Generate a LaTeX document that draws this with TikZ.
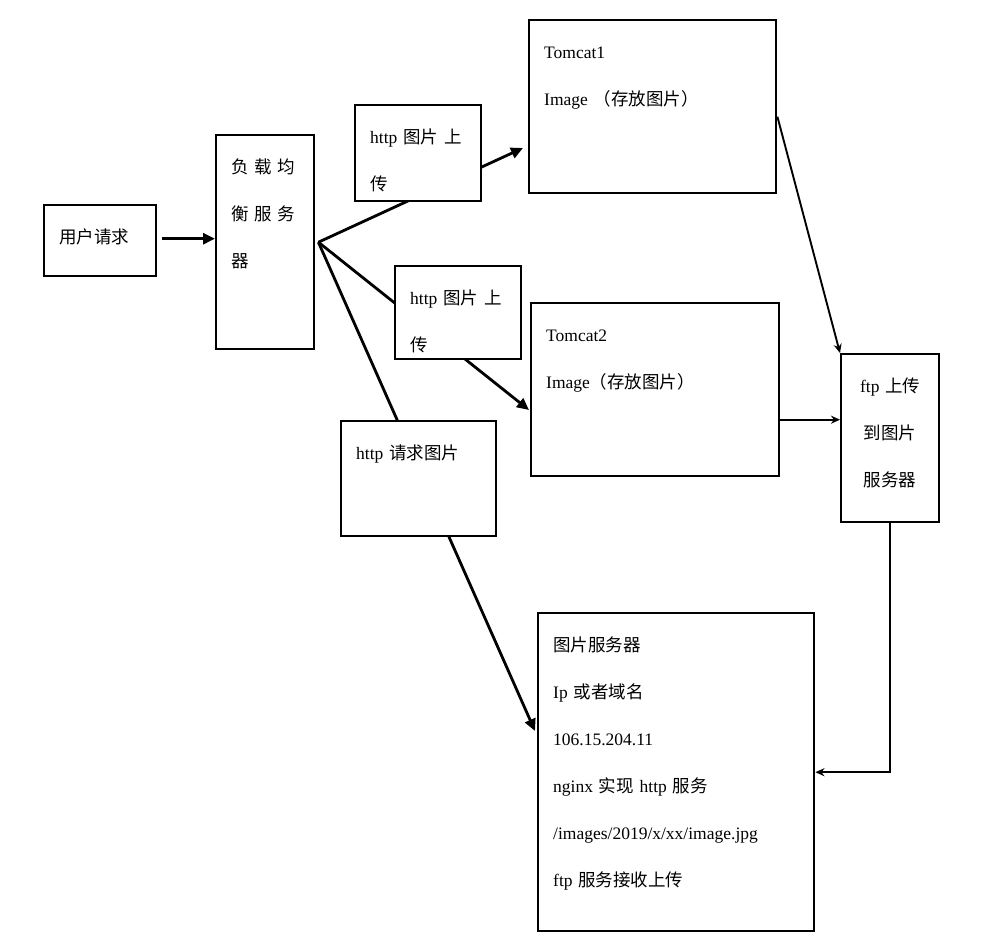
\documentclass[tikz,border=0pt]{standalone}
\usepackage{fontspec}
\setmainfont{Liberation Serif}
\newfontfamily\zh{Noto Sans CJK SC}
\usetikzlibrary{arrows.meta}

\begin{document}
\begin{tikzpicture}[x=1pt,y=-1pt,
    box/.style={draw,line width=2.4pt,anchor=north west,inner xsep=15pt,inner ysep=0pt,
        align=left,text height=38pt,font=\fontsize{17.5}{47}\selectfont},
    thick arrow/.style={-{Triangle[length=12pt,width=11pt]},line width=2.8pt},
    thin arrow/.style={-{Stealth[length=9pt,width=8pt]},line width=1.9pt}]

    \useasboundingbox (0,0) rectangle (1004,946);

    \path
    (43,204) node[box,text width=82pt,text depth=33pt](user) {{\zh 用户请求}}
    (215,134) node[box,text width=68pt,text depth=176pt](lb) {{\zh 负 载 均}\\{\zh 衡 服 务}\\{\zh 器}}
    (528,19) node[box,text width=217pt,text depth=135pt](tc1) {Tomcat1\\Image {\zh （存放图片）}}
    (530,302) node[box,text width=218pt,text depth=135pt](tc2) {Tomcat2\\Image{\zh （存放图片）}}
    (840,353) node[box,align=center,text width=68pt,text depth=130pt](ftp) {ftp {\zh 上传}\\{\zh 到图片}\\{\zh 服务器}}
    (537,612) node[box,text width=246pt,text depth=280pt](srv) {{\zh 图片服务器}\\Ip {\zh 或者域名}\\106.15.204.11\\nginx {\zh 实现} http {\zh 服务}\\/images/2019/x/xx/image.jpg\\ftp {\zh 服务接收上传}};

    \coordinate (fan) at ([xshift=3pt]lb.east);
    \coordinate (tc1in) at (523,148);
    \coordinate (tc2in) at (529,410);
    \coordinate (srvin) at (535,731);
    \coordinate (userout) at ([xshift=5pt,yshift=2pt]user.east);
    \coordinate (tc2out) at ([yshift=-30pt]tc2.east);

    \draw[thick arrow] (userout) -- (userout -| lb.west);
    \draw[thick arrow] (fan) -- (tc1in);
    \draw[thick arrow] (fan) -- (tc2in);
    \draw[thick arrow] (fan) -- (srvin);

    % labels sit on top of the lines
    \path
    (354,104) node[box,fill=white,text width=96pt,text depth=58pt](up1) {http {\zh 图片 上}\\{\zh 传}}
    (394,265) node[box,fill=white,text width=96pt,text depth=55pt](up2) {http {\zh 图片 上}\\{\zh 传}}
    (340,420) node[box,fill=white,text width=125pt,text depth=77pt](get) {http {\zh 请求图片}};

    \draw[thin arrow] ([yshift=-10pt]tc1.east) -- (ftp.north west);
    \draw[thin arrow] (tc2out) -- (tc2out -| ftp.west);
    \draw[thin arrow] (ftp.south) |- (srv.east);
\end{tikzpicture}
\end{document}
